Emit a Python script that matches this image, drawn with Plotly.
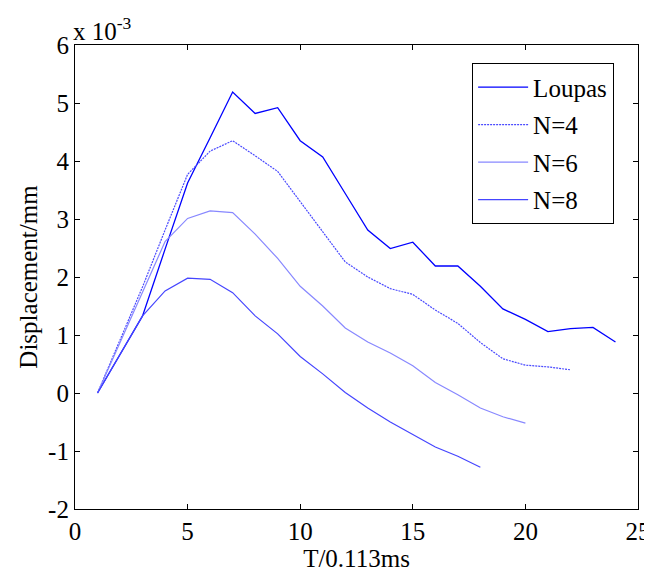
import plotly.graph_objects as go

x_loupas = list(range(1, 25))
y_loupas = [0, 0.67, 1.33, 2.48, 3.62, 4.40, 5.19, 4.82, 4.92, 4.35, 4.07, 3.44,
            2.81, 2.49, 2.60, 2.19, 2.19, 1.84, 1.45, 1.27, 1.06, 1.11, 1.13, 0.88]

x_n4 = list(range(1, 23))
y_n4 = [0, 0.92, 1.83, 2.81, 3.77, 4.17, 4.35, 4.09, 3.82, 3.30, 2.78, 2.26,
        2.00, 1.80, 1.70, 1.43, 1.20, 0.87, 0.59, 0.48, 0.45, 0.40]

x_n6 = list(range(1, 21))
y_n6 = [0, 0.86, 1.72, 2.61, 3.01, 3.14, 3.11, 2.74, 2.32, 1.84, 1.50, 1.12,
        0.88, 0.69, 0.47, 0.18, -0.03, -0.26, -0.41, -0.52]

x_n8 = list(range(1, 19))
y_n8 = [0, 0.67, 1.33, 1.76, 1.98, 1.96, 1.73, 1.33, 1.02, 0.63, 0.33, 0.01,
        -0.26, -0.50, -0.71, -0.93, -1.09, -1.28]

x_ticks = [0, 5, 10, 15, 20, 25]
y_ticks = [-2, -1, 0, 1, 2, 3, 4, 5, 6]

FONT = "Liberation Serif"
FS = 25

fig = go.Figure()
series = [
    ("Loupas", x_loupas, y_loupas, "#0000FF", 1.3, "solid"),
    ("N=4", x_n4, y_n4, "#4A4AFF", 1.2, "2px,1px"),
    ("N=6", x_n6, y_n6, "#8888FF", 1.2, "solid"),
    ("N=8", x_n8, y_n8, "#4545FF", 1.2, "solid"),
]
for name, xs, ys, col, w, dash in series:
    fig.add_trace(go.Scatter(x=xs, y=ys, mode="lines", name=name,
                             legendgroup=name,
                             line=dict(color=col, width=w, dash=dash)))

axis_common = dict(showline=True, linecolor="black", linewidth=1.2, mirror="ticks",
                   ticks="inside", ticklen=5, tickcolor="black", showgrid=False,
                   zeroline=False, automargin=False,
                   tickfont=dict(family=FONT, size=FS, color="black"))

fig.update_xaxes(range=[0, 25], tickvals=x_ticks, ticktext=[str(v) for v in x_ticks],
                 title=dict(text="T/0.113ms", font=dict(family=FONT, size=FS, color="black"),
                            standoff=4),
                 **axis_common)
fig.update_yaxes(range=[-2, 6], tickvals=y_ticks, ticktext=[str(v) for v in y_ticks],
                 title=dict(text="Displacement/mm", font=dict(family=FONT, size=FS, color="black"),
                            standoff=3),
                 **axis_common)

fig.add_annotation(xref="paper", yref="paper", x=0, y=1, xanchor="left", yanchor="bottom",
                   text="x 10<sup>-3</sup>", showarrow=False, xshift=-4, yshift=-2,
                   font=dict(family=FONT, size=FS, color="black"))

fig.update_layout(
    width=644, height=566,
    margin=dict(l=67, r=14, t=37, b=65, autoexpand=False),
    plot_bgcolor="white", paper_bgcolor="white",
    font=dict(family=FONT, size=FS, color="black"),
    legend=dict(x=0.705, y=0.961, xanchor="left", yanchor="top",
                bgcolor="white", bordercolor="black", borderwidth=1.2,
                font=dict(family=FONT, size=FS, color="black"),
                tracegroupgap=2, itemwidth=50),
)

fig.write_html("out.html")
